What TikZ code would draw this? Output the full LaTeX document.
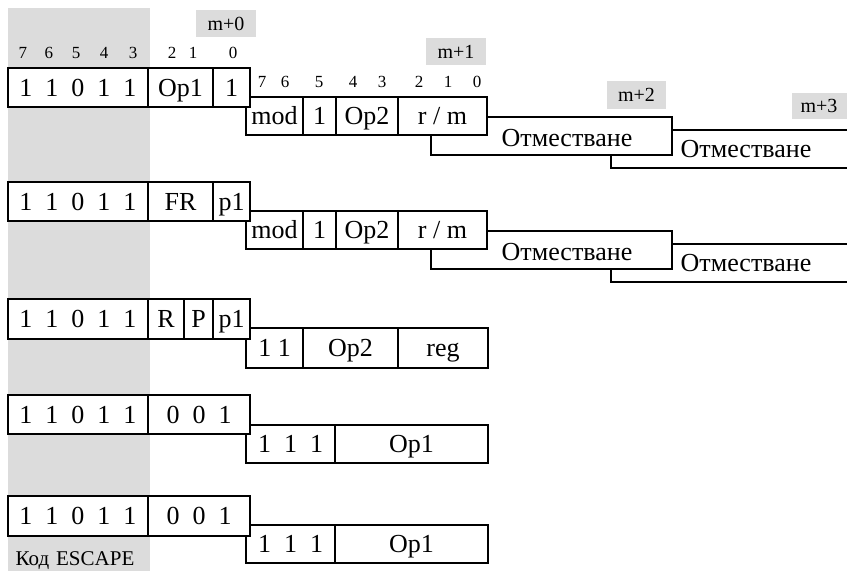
\documentclass[tikz,border=0pt]{standalone}
\usepackage{fontspec}
\setmainfont{Liberation Serif}
\definecolor{bandgray}{RGB}{220,220,220}
\tikzset{
  fld/.style={draw, line width=2.2pt, fill=white, inner sep=0pt, outer sep=0pt,
              font=\fontsize{26}{26}\selectfont, text height=19.5pt, text depth=2.3pt},
  plain/.style={inner sep=0pt, font=\fontsize{26}{26}\selectfont,
              text height=19.5pt, text depth=2.3pt},
  bitlbl/.style={inner sep=0pt, font=\fontsize{17}{17}\selectfont},
  mtag/.style={fill=bandgray, inner sep=0pt, font=\fontsize{20}{20}\selectfont,
              text height=15pt, text depth=1.8pt},
  band/.style={fill=bandgray, draw=none},
}
% a field: name, x1, y1, x2, y2, text
\newcommand\fieldat[6]{%
  \node[fld, minimum width={#4-#2}, minimum height={#5-#3}] (#1)
    at ({(#2+#4)/2},{(#3+#5)/2}) {#6};}
% a grey tag: name, x1, y1, x2, y2, text
\newcommand\tagat[6]{%
  \node[mtag, minimum width={#4-#2}, minimum height={#5-#3}] (#1)
    at ({(#2+#4)/2},{(#3+#5)/2}) {#6};}
\newcommand\gapk{\kern 13pt}
\begin{document}
\begin{tikzpicture}[x=1pt,y=-1pt]
\useasboundingbox (0,0) rectangle (847,571);

% escape-code column
\fill[band] (8,8) rectangle (150,571);
\node[inner sep=0pt, font=\fontsize{21}{21}\selectfont] (esc) at (75,561) {Код\kern7pt ESCAPE};

% byte tags
\tagat{m0}{196}{10}{256}{37}{m+0}
\tagat{m1}{426}{38}{486}{65}{m+1}
\tagat{m2}{607}{81}{666}{109}{m+2}
\tagat{m3}{792}{93}{852}{119}{\kern-6pt m+3}

% bit numbers, first byte
\foreach \b/\x in {7/23,6/49,5/76,4/104,3/133,2/172,1/193,0/233}
  \node[bitlbl] (ba\b) at (\x,53) {\b};
% bit numbers, second byte
\foreach \b/\x in {7/262,6/285,5/319,4/353,3/382,2/419,1/448,0/477}
  \node[bitlbl] (bb\b) at (\x,82) {\b};

% ---- format 1 ----
\fieldat{ad}{611}{130}{852}{168}{}
\fieldat{ac}{431}{117}{672}{155}{}
\fieldat{amod}{246}{97}{303}{135}{mod}
\fieldat{aone}{303}{97}{336}{135}{1}
\fieldat{aop}{336}{97}{398}{135}{Op2}
\fieldat{arm}{398}{97}{487}{135}{r / m}
\fieldat{aesc}{8}{68}{148}{107}{1\gapk1\gapk0\gapk1\gapk1}
\fieldat{aopa}{148}{68}{213}{107}{Op1}
\fieldat{abit}{213}{68}{250}{107}{1}
\node[plain] (act) at (567,138) {Отместване};
\node[plain] (adt) at (746,149) {Отместване};

% ---- format 2 ----
\fieldat{bd}{611}{244}{852}{282}{}
\fieldat{bc}{431}{231}{672}{269}{}
\fieldat{bmod}{246}{211}{303}{249}{mod}
\fieldat{bone}{303}{211}{336}{249}{1}
\fieldat{bop}{336}{211}{398}{249}{Op2}
\fieldat{brm}{398}{211}{487}{249}{r / m}
\fieldat{besc}{8}{182}{148}{221}{1\gapk1\gapk0\gapk1\gapk1}
\fieldat{bfr}{148}{182}{213}{221}{FR}
\fieldat{bp}{213}{182}{250}{221}{p1}
\node[plain] (bct) at (567,252) {Отместване};
\node[plain] (bdt) at (746,263) {Отместване};

% ---- format 3 ----
\fieldat{cone}{246}{328}{303}{368}{1 1}
\fieldat{cop}{303}{328}{398}{368}{Op2}
\fieldat{creg}{398}{328}{488}{368}{reg}
\fieldat{cesc}{8}{299}{148}{339}{1\gapk1\gapk0\gapk1\gapk1}
\fieldat{cr}{148}{299}{184}{339}{R}
\fieldat{cpp}{184}{299}{213}{339}{P}
\fieldat{cp}{213}{299}{250}{339}{p1}

% ---- format 4 ----
\fieldat{done}{246}{425}{335}{463}{1\gapk1\gapk1}
\fieldat{dop}{335}{425}{488}{463}{Op1}
\fieldat{desc}{8}{395}{148}{434}{1\gapk1\gapk0\gapk1\gapk1}
\fieldat{dcode}{148}{395}{250}{434}{0\gapk0\gapk1}

% ---- format 5 ----
\fieldat{eone}{246}{525}{335}{563}{1\gapk1\gapk1}
\fieldat{eop}{335}{525}{488}{563}{Op1}
\fieldat{eesc}{8}{496}{148}{536}{1\gapk1\gapk0\gapk1\gapk1}
\fieldat{ecode}{148}{496}{250}{536}{0\gapk0\gapk1}
\end{tikzpicture}
\end{document}
